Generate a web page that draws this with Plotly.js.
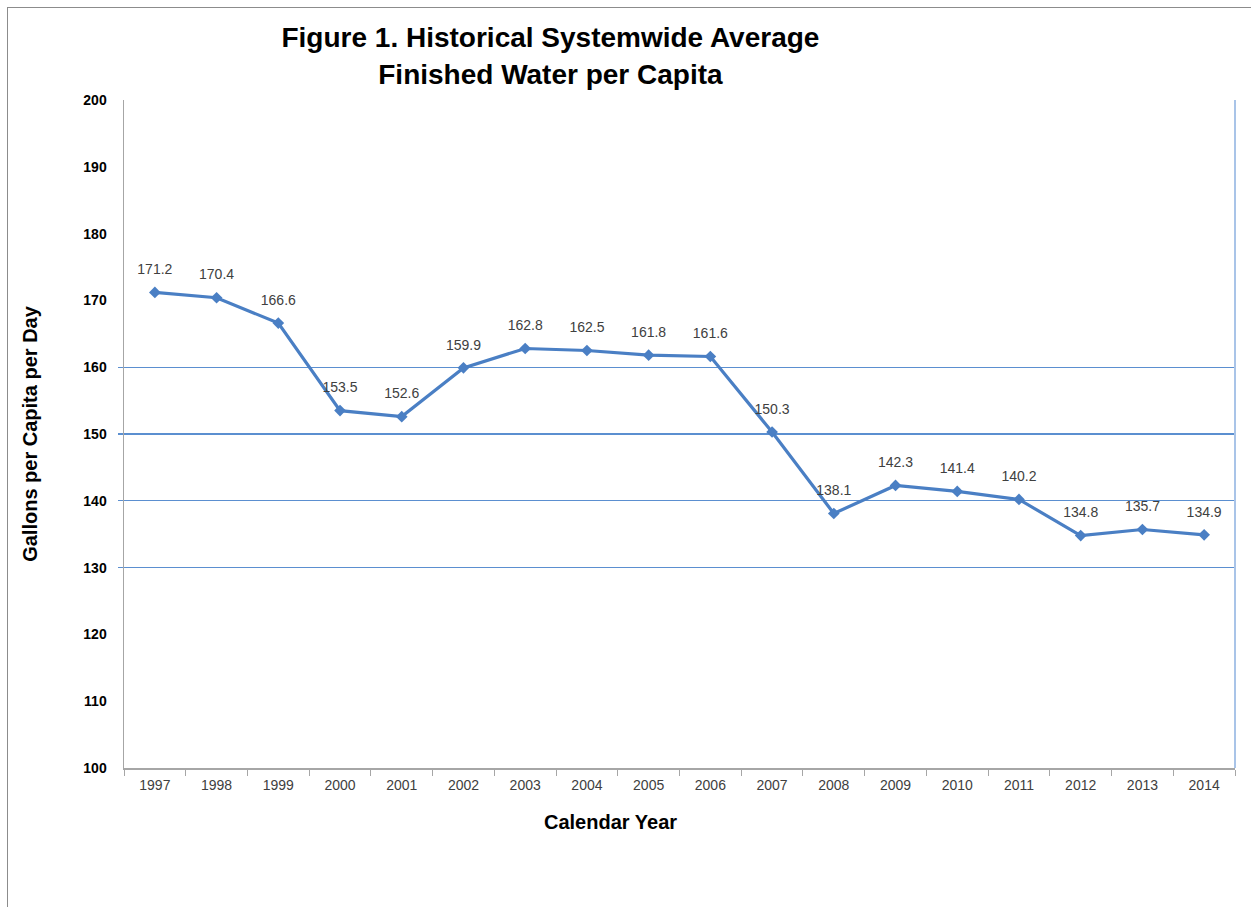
<!DOCTYPE html>
<html>
<head>
<meta charset="utf-8">
<script src="https://cdn.plot.ly/plotly-3.0.1.min.js"></script>
<style>
  html, body { margin: 0; padding: 0; background: #fff; overflow: hidden; }
  #frame { position: absolute; left: 7px; top: 7px; width: 1260px; height: 920px; border: 1px solid #8c8c8c; box-sizing: border-box; pointer-events: none; }
  #chart { position: absolute; left: 0; top: 0; width: 1251px; height: 907px; }
</style>
</head>
<body>
<div id="chart"></div>
<div id="frame"></div>
<script>
const years = ["1997","1998","1999","2000","2001","2002","2003","2004","2005","2006","2007","2008","2009","2010","2011","2012","2013","2014"];
const gallonsPerCapita = [171.2, 170.4, 166.6, 153.5, 152.6, 159.9, 162.8, 162.5, 161.8, 161.6, 150.3, 138.1, 142.3, 141.4, 140.2, 134.8, 135.7, 134.9];
const yTickVals = [100, 110, 120, 130, 140, 150, 160, 170, 180, 190, 200];
const gridVals = [130, 140, 150, 160];

const FONT = 'Arial, Liberation Sans, sans-serif';

const lineTrace = {
  x: years,
  y: gallonsPerCapita,
  type: 'scatter',
  mode: 'lines+markers',
  line: { color: '#4a7fc4', width: 3.2 },
  marker: { symbol: 'diamond', size: 9, color: '#4a7fc4' },
  cliponaxis: false,
  hoverinfo: 'x+y'
};

const labelTrace = {
  x: years,
  y: gallonsPerCapita,
  type: 'scatter',
  mode: 'markers+text',
  marker: { size: 22, opacity: 0, color: '#ffffff' },
  text: gallonsPerCapita.map(v => v.toFixed(1)),
  textposition: 'top center',
  textfont: { family: FONT, size: 14, color: '#404040' },
  cliponaxis: false,
  hoverinfo: 'skip'
};

const gridTrace = { x: [years[0]], y: [gridVals[0]], yaxis: 'y2', type: 'scatter', mode: 'none', hoverinfo: 'skip', showlegend: false };

const layout = {
  width: 1251, height: 907,
  margin: { l: 124, r: 16, t: 100, b: 139 },
  paper_bgcolor: '#fff', plot_bgcolor: '#fff',
  showlegend: false,
  font: { family: FONT, color: '#000' },
  title: {
    text: '<b>Figure 1. Historical Systemwide Average<br>Finished Water per Capita</b>',
    font: { family: FONT, size: 28, color: '#000' },
    x: 0.44, xanchor: 'center', xref: 'container',
    y: 0.948, yanchor: 'top', yref: 'container'
  },
  xaxis: {
    type: 'category',
    range: [-0.5, years.length - 0.5],
    showgrid: false,
    showline: true, linecolor: '#a6a6a6', linewidth: 1.5,
    ticks: 'outside', tickson: 'boundaries', ticklen: 6, tickcolor: '#a6a6a6',
    tickfont: { family: FONT, size: 14, color: '#404040' },
    ticklabelstandoff: 4,
    zeroline: false,
    automargin: false
  },
  yaxis: {
    range: [100, 200],
    tickvals: yTickVals,
    showgrid: false,
    showline: true, linecolor: '#a6a6a6', linewidth: 1.5,
    ticks: '',
    tickfont: { family: FONT, size: 14, color: '#000', weight: 'bold' },
    ticklabelstandoff: 13,
    title: { text: '<b>Gallons per Capita per Day</b>', font: { size: 20, color: '#000' }, standoff: 40 },
    zeroline: false,
    automargin: false
  },
  yaxis2: {
    overlaying: 'y',
    side: 'left',
    range: [100, 200],
    tickvals: gridVals,
    showticklabels: false,
    showgrid: true, gridcolor: '#5b8fd0', gridwidth: 1.3,
    ticks: 'outside', ticklen: 5, tickcolor: '#5b8fd0', tickwidth: 1.3,
    showline: false, zeroline: false
  },
  shapes: [
    { type: 'line', xref: 'paper', yref: 'paper', x0: 1, x1: 1, y0: 0, y1: 1,
      line: { color: '#a9c4e8', width: 2 } }
  ],
  annotations: [
    { text: '<b>Calendar Year</b>', xref: 'paper', yref: 'paper', x: 0.438, y: -0.081,
      xanchor: 'center', yanchor: 'middle', showarrow: false,
      font: { family: FONT, size: 20, color: '#000' } }
  ]
};

Plotly.newPlot('chart', [gridTrace, lineTrace, labelTrace], layout, { displayModeBar: false, staticPlot: true });
</script>
</body>
</html>
